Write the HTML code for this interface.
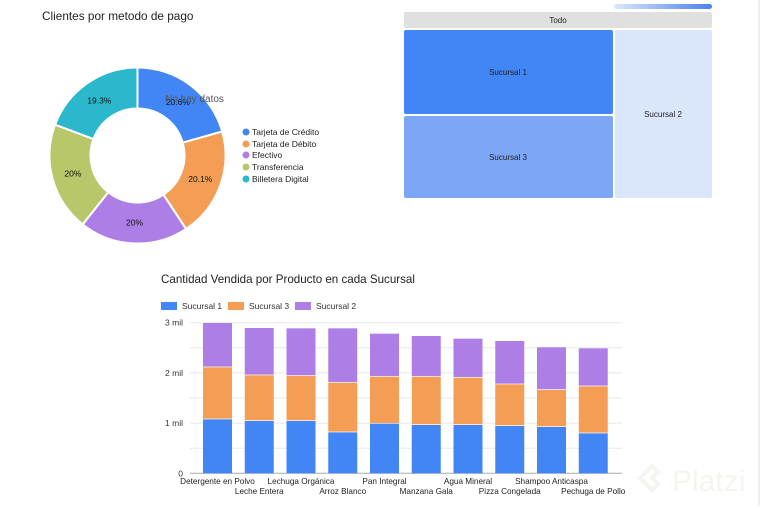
<!DOCTYPE html>
<html><head><meta charset="utf-8"><style>
body{margin:0;background:#fff;width:767px;height:506px;overflow:hidden;font-family:"Liberation Sans",Arial,sans-serif}
svg text{font-family:"Liberation Sans",Arial,sans-serif}
</style></head><body>
<svg id="s" width="767" height="506" xmlns="http://www.w3.org/2000/svg">
<text x="42" y="20" font-size="11.8" fill="#222">Clientes por metodo de pago</text>
<g id="donut"></g>
<text x="165" y="102" font-size="10" fill="#555">No hay datos</text>
<g font-size="8.5" fill="#222">
<circle cx="246" cy="132" r="3.5" fill="#4285f4"/><text x="252" y="135">Tarjeta de Crédito</text>
<circle cx="246" cy="144" r="3.5" fill="#f49d54"/><text x="252" y="147">Tarjeta de Débito</text>
<circle cx="246" cy="155" r="3.5" fill="#ad7ee6"/><text x="252" y="158">Efectivo</text>
<circle cx="246" cy="167" r="3.5" fill="#b7c76a"/><text x="252" y="170">Transferencia</text>
<circle cx="246" cy="179" r="3.5" fill="#2bb7cc"/><text x="252" y="182">Billetera Digital</text>
</g>
<defs><linearGradient id="gr"><stop offset="0" stop-color="#dde7fb"/><stop offset="1" stop-color="#4a80ec"/></linearGradient></defs>
<rect x="614" y="4" width="98" height="5" rx="2.5" fill="url(#gr)"/>
<rect x="404" y="12" width="308" height="16" rx="2" fill="#e0e0e0"/>
<text x="558" y="23" font-size="8" text-anchor="middle" fill="#222">Todo</text>
<rect x="404" y="30" width="209" height="84" rx="2" fill="#4285f4"/>
<text x="508" y="75" font-size="8" text-anchor="middle" fill="#222">Sucursal 1</text>
<rect x="404" y="116" width="209" height="82" rx="2" fill="#7ba7f6"/>
<text x="508" y="160" font-size="8" text-anchor="middle" fill="#222">Sucursal 3</text>
<rect x="615" y="30" width="97" height="168" rx="2" fill="#d9e6fc"/>
<text x="663" y="117" font-size="8" text-anchor="middle" fill="#222">Sucursal 2</text>
<text x="161" y="283" font-size="11.6" fill="#222">Cantidad Vendida por Producto en cada Sucursal</text>
<g font-size="8.5" fill="#333">
<rect x="161" y="302" width="16" height="8" fill="#4285f4"/><text x="182" y="309">Sucursal 1</text>
<rect x="228" y="302" width="16" height="8" fill="#f49d54"/><text x="249" y="309">Sucursal 3</text>
<rect x="295" y="302" width="16" height="8" fill="#ad7ee6"/><text x="316" y="309">Sucursal 2</text>
</g>
<g id="bars"></g>
<line x1="759" y1="0" x2="759" y2="506" stroke="#ddd"/>
<text x="672" y="491" font-size="30" fill="#f3f5ee">Platzi</text>
<path d="M640 478 l12 -12 l6 6 l-6 6 l6 6 l-6 6 z" fill="none" stroke="#f3f5ee" stroke-width="4"/>
</svg>
<script>
var NS="http://www.w3.org/2000/svg";
function el(p,t,a,txt){var e=document.createElementNS(NS,t);for(var k in a)e.setAttribute(k,a[k]);if(txt)e.textContent=txt;p.appendChild(e);return e;}
var d=document.getElementById("donut");
var cx=137.5,cy=155.5,R=88,r=47;
var vals=[20.6,20.1,20,20,19.3],cols=["#4285f4","#f49d54","#ad7ee6","#b7c76a","#2bb7cc"],lab=["20.6%","20.1%","20%","20%","19.3%"];
var a0=-Math.PI/2;
function pt(rr,a){return (cx+rr*Math.cos(a)).toFixed(2)+" "+(cy+rr*Math.sin(a)).toFixed(2);}
for(var i=0;i<5;i++){var a1=a0+vals[i]/100*2*Math.PI;
el(d,"path",{d:"M"+pt(R,a0)+" A"+R+" "+R+" 0 0 1 "+pt(R,a1)+" L"+pt(r,a1)+" A"+r+" "+r+" 0 0 0 "+pt(r,a0)+"Z",fill:cols[i],stroke:"#fff","stroke-width":2});
var am=(a0+a1)/2;el(d,"text",{x:cx+67*Math.cos(am),y:cy+67*Math.sin(am)+3,"font-size":"8.5","text-anchor":"middle",fill:"#111"},lab[i]);
a0=a1;}
var b=document.getElementById("bars");
var base=473.3,pm=50.2;
for(var g=0;g<=6;g++){var y=base-g*25.1;el(b,"line",{x1:190,x2:622,y1:y,y2:y,stroke:g==0?"#aaa":"#e8e8e8"});}
[["0",0],["1 mil",1],["2 mil",2],["3 mil",3]].forEach(function(t){el(b,"text",{x:183,y:base-t[1]*pm+3,"font-size":"8.5","text-anchor":"end",fill:"#333"},t[0]);});
var tops=[[388,232,99],[393,256,114],[393,258,115],[427,278,115],[401,260,131],[405,260,138],[405,263,146],[408,283,153],[411,300,172],[430,289,175]];
var names=["Detergente en Polvo","Leche Entera","Lechuga Orgánica","Arroz Blanco","Pan Integral","Manzana Gala","Agua Mineral","Pizza Congelada","Shampoo Anticaspa","Pechuga de Pollo"];
for(var i=0;i<10;i++){var x=203+i*41.75,t=tops[i].map(function(z){return 290+z/3;});
el(b,"rect",{x:x,y:t[0],width:29,height:base-t[0],fill:"#4285f4"});
el(b,"rect",{x:x,y:t[1],width:29,height:t[0]-t[1]-0.7,fill:"#f49d54"});
el(b,"rect",{x:x,y:t[2],width:29,height:t[1]-t[2]-0.7,fill:"#ad7ee6"});
el(b,"text",{x:x+14.5,y:i%2?494:484,"font-size":"8.2","text-anchor":"middle",fill:"#222"},names[i]);}
</script>
</body></html>
